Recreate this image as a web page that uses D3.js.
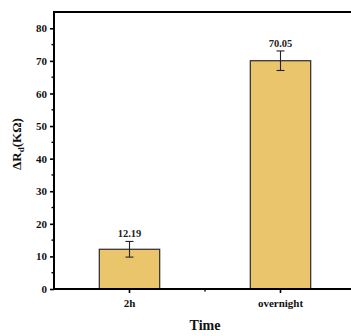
<!DOCTYPE html>
<html>
<head>
<meta charset="utf-8">
<script src="https://cdn.jsdelivr.net/npm/d3@7"></script>
<style>
  html, body { margin: 0; padding: 0; background: #fff; }
  svg { display: block; font-family: "Liberation Serif", "Times New Roman", serif; font-weight: bold; }
</style>
</head>
<body>
<svg id="chart" width="351" height="336"></svg>
<script>
// Resistance change after each treatment time
const categories = ["2h", "overnight"];
const values = [12.19, 70.05];
const errors = [2.4, 3.0];
const yTicks = [0, 10, 20, 30, 40, 50, 60, 70, 80];
const yMinorTicks = [5, 15, 25, 35, 45, 55, 65, 75];

const svg = d3.select("#chart");
const plotLeft = 54, plotTop = 12, plotBottom = 289, plotRight = 351;
const serif = "Liberation Serif, Times New Roman, serif";

const x = d3.scaleBand()
  .domain(categories)
  .range([plotLeft, plotLeft + 302])
  .paddingInner(0.6)
  .paddingOuter(0.3);

const y = d3.scaleLinear().domain([0, 85]).range([plotBottom, plotTop]);

const barFill = "#ebc56b";

// bars
svg.selectAll("rect.bar")
  .data(values)
  .join("rect")
  .attr("class", "bar")
  .attr("x", (d, i) => x(categories[i]))
  .attr("width", x.bandwidth())
  .attr("y", d => y(d))
  .attr("height", d => y(0) - y(d))
  .attr("fill", barFill)
  .attr("stroke", "#2a2a2a")
  .attr("stroke-width", 1.2);

// error bars
const cx = i => x(categories[i]) + x.bandwidth() / 2;
const eb = svg.append("g").attr("stroke", "#222").attr("stroke-width", 1.1);
values.forEach((v, i) => {
  const c = cx(i);
  eb.append("line").attr("x1", c).attr("x2", c).attr("y1", y(v + errors[i])).attr("y2", y(v - errors[i]));
  eb.append("line").attr("x1", c - 4).attr("x2", c + 4).attr("y1", y(v + errors[i])).attr("y2", y(v + errors[i]));
  eb.append("line").attr("x1", c - 4).attr("x2", c + 4).attr("y1", y(v - errors[i])).attr("y2", y(v - errors[i]));
});

// value labels
svg.selectAll("text.val")
  .data(values)
  .join("text")
  .attr("class", "val")
  .attr("x", (d, i) => cx(i))
  .attr("y", (d, i) => y(d + errors[i]) - 4)
  .attr("text-anchor", "middle")
  .attr("font-family", serif)
  .attr("font-size", 10.5)
  .attr("fill", "#222")
  .text(d => d.toFixed(2));

// y axis
const yAxis = svg.append("g")
  .attr("transform", `translate(${plotLeft},0)`)
  .call(d3.axisLeft(y).tickValues(yTicks).tickSize(4).tickPadding(3).tickFormat(d3.format("d")));
yAxis.select(".domain").remove();
yAxis.selectAll(".tick line").attr("stroke", "#000").attr("stroke-width", 1.6);
yAxis.selectAll(".tick text")
  .attr("font-family", serif)
  .attr("font-weight", "bold").attr("font-size", 11).attr("fill", "#111");

svg.append("g").selectAll("line")
  .data(yMinorTicks)
  .join("line")
  .attr("x1", plotLeft - 2.5).attr("x2", plotLeft)
  .attr("y1", d => y(d)).attr("y2", d => y(d))
  .attr("stroke", "#000").attr("stroke-width", 1.4);

// x axis ticks and labels
const xAxis = svg.append("g")
  .attr("transform", `translate(0,${plotBottom})`)
  .call(d3.axisBottom(x).tickSize(4).tickPadding(6));
xAxis.select(".domain").remove();
xAxis.selectAll(".tick line").attr("stroke", "#000").attr("stroke-width", 1.6);
xAxis.selectAll(".tick text")
  .attr("font-family", serif)
  .attr("font-weight", "bold").attr("font-size", 11).attr("fill", "#111");

const midX = (cx(0) + cx(1)) / 2;
svg.append("line")
  .attr("x1", midX).attr("x2", midX)
  .attr("y1", plotBottom).attr("y2", plotBottom + 2.5)
  .attr("stroke", "#000").attr("stroke-width", 1.4);

// frame
svg.append("path")
  .attr("d", `M${plotRight},${plotTop}H${plotLeft}V${plotBottom}H${plotRight}`)
  .attr("fill", "none")
  .attr("stroke", "#000")
  .attr("stroke-width", 2);

// axis titles
svg.append("text")
  .attr("x", midX)
  .attr("y", 330)
  .attr("text-anchor", "middle")
  .attr("font-family", serif)
  .attr("font-size", 14)
  .attr("fill", "#111")
  .text("Time");

const yt = svg.append("text")
  .attr("transform", "translate(21,144) rotate(-90)")
  .attr("text-anchor", "middle")
  .attr("font-family", serif)
  .attr("font-size", 13)
  .attr("fill", "#111");
yt.append("tspan").text("ΔR");
yt.append("tspan").attr("font-size", 9).attr("dy", 3).text("d");
yt.append("tspan").attr("dy", -3).text("(KΩ)");
</script>
</body>
</html>
